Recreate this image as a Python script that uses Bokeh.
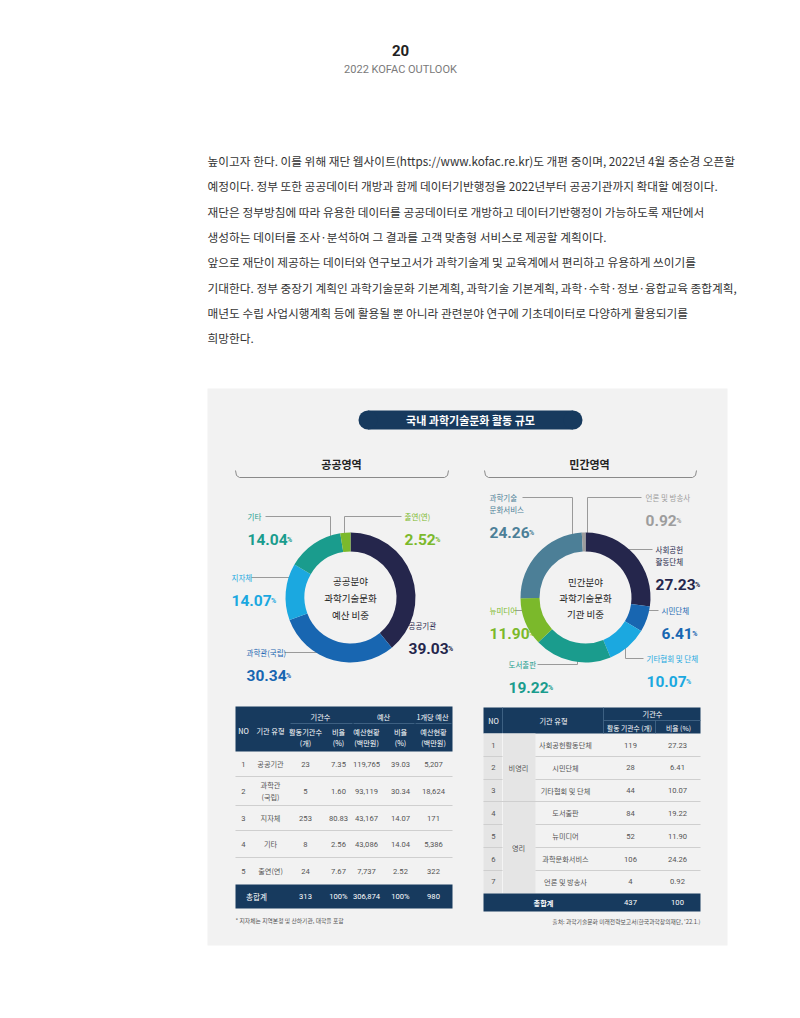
import numpy as np
from bokeh.plotting import figure
from bokeh.models import Range1d, ColumnDataSource
from bokeh.core.properties import value
from bokeh.embed import file_html
from bokeh.resources import INLINE

# ---------------- data ----------------
page_no = "20"
page_title = "2022 KOFAC OUTLOOK"
paragraph = [
    "높이고자 한다. 이를 위해 재단 웹사이트(https://www.kofac.re.kr)도 개편 중이며, 2022년 4월 중순경 오픈할",
    "예정이다. 정부 또한 공공데이터 개방과 함께 데이터기반행정을 2022년부터 공공기관까지 확대할 예정이다.",
    "재단은 정부방침에 따라 유용한 데이터를 공공데이터로 개방하고 데이터기반행정이 가능하도록 재단에서",
    "생성하는 데이터를 조사·분석하여 그 결과를 고객 맞춤형 서비스로 제공할 계획이다.",
    "앞으로 재단이 제공하는 데이터와 연구보고서가 과학기술계 및 교육계에서  편리하고 유용하게 쓰이기를",
    "기대한다. 정부 중장기 계획인 과학기술문화 기본계획, 과학기술 기본계획, 과학·수학·정보·융합교육 종합계획,",
    "매년도 수립 사업시행계획 등에 활용될 뿐 아니라 관련분야 연구에 기초데이터로 다양하게 활용되기를",
    "희망한다.",
]
panel_title = "국내 과학기술문화 활동 규모"
public_title = "공공영역"
private_title = "민간영역"
public_center = ["공공분야", "과학기술문화", "예산 비중"]
private_center = ["민간분야", "과학기술문화", "기관 비중"]

public_labels = ["공공기관", "과학관(국립)", "지자체", "기타", "출연(연)"]
public_share = [39.03, 30.34, 14.07, 14.04, 2.52]

private_labels = ["사회공헌\n활동단체", "시민단체", "기타협회 및 단체", "도서출판", "뉴미디어",
                  "과학기술\n문화서비스", "언론 및 방송사"]
private_share = [27.23, 6.41, 10.07, 19.22, 11.90, 24.26, 0.92]

# public table
pub_no = ["1", "2", "3", "4", "5"]
pub_type = ["공공기관", "과학관\n(국립)", "지자체", "기타", "출연(연)"]
pub_count = [23, 5, 253, 8, 24]
pub_count_pct = [7.35, 1.60, 80.83, 2.56, 7.67]
pub_budget = [119765, 93119, 43167, 43086, 7737]
pub_budget_pct = [39.03, 30.34, 14.07, 14.04, 2.52]
pub_per_org = [5207, 18624, 171, 5386, 322]
pub_total = ["총합계", "313", "100%", "306,874", "100%", "980"]
pub_note = "* 지자체는 지역본청 및 산하기관, 대학을 포함"

# private table
prv_no = ["1", "2", "3", "4", "5", "6", "7"]
prv_group = ["비영리", "영리"]
prv_group_rows = [3, 4]
prv_type = ["사회공헌활동단체", "시민단체", "기타협회 및 단체", "도서출판", "뉴미디어", "과학문화서비스", "언론 및 방송사"]
prv_count = [119, 28, 44, 84, 52, 106, 4]
prv_pct = [27.23, 6.41, 10.07, 19.22, 11.90, 24.26, 0.92]
prv_total = ["총합계", "437", "100"]
prv_source = "출처: 과학기술문화 미래전략보고서(한국과학창의재단, '22.1.)"

# ---------------- style ----------------
W, H = 800, 1018
KR = "Noto Sans CJK KR"
NUM = "Roboto"
NAVY = "#173a5e"
PANEL = "#f2f2f2"
C_DARK = "#25264c"
C_BLUE = "#1866b1"
C_LBLUE = "#1ba8e0"
C_TEAL = "#1a9c8d"
C_GREEN = "#7bb92b"
C_STEEL = "#4c7f97"
C_GRAY = "#9d9d9d"
pub_colors = [C_DARK, C_BLUE, C_LBLUE, C_TEAL, C_GREEN]
prv_colors = [C_DARK, C_BLUE, C_LBLUE, C_TEAL, C_GREEN, C_STEEL, C_GRAY]


def Y(y):
    return H - y


p = figure(width=W, height=H, x_range=Range1d(0, W), y_range=Range1d(0, H),
           output_backend="svg", toolbar_location=None, x_axis_type=None, y_axis_type=None,
           min_border=0)
p.grid.visible = False
p.outline_line_color = None
p.background_fill_color = "white"
p.border_fill_color = "white"


def txt(x, y, s, size, color="#333333", font=KR, style="normal", align="left", baseline="middle"):
    p.text(x=[x], y=[Y(y)], text=[s], text_font=value(font), text_font_size=f"{size}px",
           text_color=color, text_font_style=style, text_align=align, text_baseline=baseline)


# header
txt(400, 50, page_no, 15, "#222222", NUM, "bold", "center")
txt(400, 69, page_title, 11, "#7a7a7a", NUM, "normal", "center")

# paragraph
for i, line in enumerate(paragraph):
    txt(207, 160 + 25.3 * i, line, 11.7, "#333333")

# panel
p.quad(left=[207], right=[727], top=[Y(388)], bottom=[Y(945)], fill_color=PANEL, line_color=None)

# title pill
p.quad(left=[367.5], right=[572.5], top=[Y(410)], bottom=[Y(429)], fill_color=NAVY, line_color=None)
p.ellipse(x=[367.5, 572.5], y=[Y(419.5)] * 2, width=19, height=19, fill_color=NAVY, line_color=None)
txt(470, 419.5, panel_title, 11, "white", KR, "bold", "center")

# section titles & brackets
txt(341, 463, public_title, 11, "#222222", KR, "bold", "center")
txt(589, 463, private_title, 11, "#222222", KR, "bold", "center")
for (a, b) in [(235, 448), (484, 696)]:
    xs = [a, a + 1, a + 4, b - 4, b - 1, b]
    ys = [Y(470), Y(475), Y(477), Y(477), Y(475), Y(470)]
    p.line(xs, ys, line_color="#8a8a8a", line_width=1)


def pct_text(x, y, v, color):
    s = f"{v:.2f}"
    fs = 15.5
    w = sum(0.262 if c == "." else 0.565 for c in s) * fs
    txt(x, y, s, fs, color, NUM, "bold", "left", "alphabetic")
    txt(x + w + 0.5, y, "%", 7, color, NUM, "bold", "left", "alphabetic")


def donut(cx, cy, shares, colors, r_in, r_out):
    fr = np.array(shares, dtype=float) / np.sum(shares)
    ends = np.cumsum(fr)
    starts = ends - fr
    src = ColumnDataSource(dict(
        start=np.pi / 2 - 2 * np.pi * starts,
        end=np.pi / 2 - 2 * np.pi * ends,
        color=colors,
    ))
    p.annular_wedge(x=cx, y=Y(cy), inner_radius=r_in, outer_radius=r_out,
                    start_angle="start", end_angle="end", direction="clock",
                    fill_color="color", line_color=None, source=src)


LEAD = "#9a9a9a"

# ---- public donut ----
pub_cx, pub_cy = 350, 597
pub_layout = [  # (label x, label y, leader polyline)
    (408, 625, None),
    (246, 652, [(284, 652), (318, 652)]),
    (231, 577, [(251, 577), (290, 577)]),
    (247, 516, [(265, 516), (330, 516), (330, 540)]),
    (404, 516, [(401, 516), (344, 516), (344, 540)]),
]
for (lx, ly, lead) in pub_layout:
    if lead:
        p.line([q[0] for q in lead], [Y(q[1]) for q in lead], line_color=LEAD, line_width=1)
donut(pub_cx, pub_cy, public_share, pub_colors, 46, 65)
for (lx, ly, lead), lab, v, c in zip(pub_layout, public_labels, public_share, pub_colors):
    txt(lx, ly, lab, 7.5, c)
    pct_text(lx, ly + 23, v, c)
for i, s in enumerate(public_center):
    txt(pub_cx, pub_cy - 17 + 17 * i, s, 9.5, "#222222", KR, "normal", "center")

# ---- private donut ----
prv_cx, prv_cy = 585, 597
prv_layout = [
    (655, 549, [(652, 549), (625, 549)]),
    (661, 610, [(658, 610), (646, 610)]),
    (646, 658, [(643, 658), (625, 658), (625, 640)]),
    (508, 664, [(537, 664), (577, 664), (577, 650)]),
    (489, 610, [(515, 610), (530, 610)]),
    (489, 497, [(522, 497), (572, 497), (572, 540)]),
    (645, 497, [(641, 497), (587, 497), (587, 535)]),
]
for (lx, ly, lead) in prv_layout:
    if lead:
        p.line([q[0] for q in lead], [Y(q[1]) for q in lead], line_color=LEAD, line_width=1)
donut(prv_cx, prv_cy, private_share, prv_colors, 46, 65)
for (lx, ly, lead), lab, v, c in zip(prv_layout, private_labels, private_share, prv_colors):
    parts = lab.split("\n")
    for k, part in enumerate(parts):
        txt(lx, ly + 12 * k, part, 7.5, c)
    pct_text(lx, ly + 12 * (len(parts) - 1) + 23, v, c)
for i, s in enumerate(private_center):
    txt(prv_cx, prv_cy - 16 + 16 * i, s, 9.5, "#222222", KR, "normal", "center")

# ---- public table ----
TS = 7.2
TC = "#555555"
L0, L1 = 235, 452
p.quad(left=[L0], right=[L1], top=[Y(706)], bottom=[Y(751)], fill_color=NAVY, line_color=None)
col_x = [243, 270, 305, 338, 366, 400, 433]
txt(320, 716, "기관수", TS, "white", KR, "normal", "center")
txt(383, 716, "예산", TS, "white", KR, "normal", "center")
txt(432, 716, "1개당 예산", TS, "white", KR, "normal", "center")
p.line([290, 352], [Y(723), Y(723)], line_color="#47698b", line_width=0.8)
p.line([353, 414], [Y(723), Y(723)], line_color="#47698b", line_width=0.8)
p.line([415, 451], [Y(723), Y(723)], line_color="#47698b", line_width=0.8)
txt(col_x[0], 730, "NO", TS, "white", KR, "normal", "center")
txt(col_x[1], 730, "기관 유형", TS, "white", KR, "normal", "center")
hdr2 = [("활동기관수", "(개)"), ("비율", "(%)"), ("예산현황", "(백만원)"), ("비율", "(%)"), ("예산현황", "(백만원)")]
for cx, (a, b) in zip(col_x[2:], hdr2):
    txt(cx, 731, a, TS, "white", KR, "normal", "center")
    txt(cx, 742, b, TS, "white", KR, "normal", "center")

row_y = [763.5, 790.5, 817.5, 843.5, 870.5]
for sy in [776, 805, 830, 857]:
    p.line([L0, L1], [Y(sy), Y(sy)], line_color="#cfcfcf", line_width=1)
for i in range(len(pub_no)):
    y = row_y[i]
    vals = [pub_no[i], None, f"{pub_count[i]}", f"{pub_count_pct[i]:.2f}", f"{pub_budget[i]:,}",
            f"{pub_budget_pct[i]:.2f}", f"{pub_per_org[i]:,}"]
    for cx, s in zip(col_x, vals):
        if s is not None:
            txt(cx, y, s, TS + 0.4, TC, NUM, "normal", "center")
    parts = pub_type[i].split("\n")
    for k, part in enumerate(parts):
        txt(col_x[1], y - 6 * (len(parts) - 1) + 12 * k, part, TS, TC, KR, "normal", "center")
p.quad(left=[L0], right=[L1], top=[Y(884)], bottom=[Y(908)], fill_color=NAVY, line_color=None)
tot_x = [256, 305, 338, 366, 400, 433]
for cx, s in zip(tot_x, pub_total):
    txt(cx, 896, s, TS + 0.4, "white", KR if cx == 256 else NUM, "normal", "center")
txt(235, 920, pub_note, 5.8, "#555555")

# ---- private table ----
R0, R1 = 483, 700
p.quad(left=[R0], right=[R1], top=[Y(707)], bottom=[Y(733)], fill_color=NAVY, line_color=None)
for xv in [502, 603]:
    p.line([xv, xv], [Y(707), Y(733)], line_color="#47698b", line_width=0.8)
p.line([603, R1], [Y(720), Y(720)], line_color="#47698b", line_width=0.8)
p.line([655, 655], [Y(720), Y(733)], line_color="#47698b", line_width=0.8)
txt(493, 720, "NO", TS, "white", KR, "normal", "center")
txt(553, 720, "기관 유형", TS, "white", KR, "normal", "center")
txt(652, 713.5, "기관수", TS, "white", KR, "normal", "center")
txt(629, 727, "활동 기관수 (개)", TS - 0.4, "white", KR, "normal", "center")
txt(678, 727, "비율 (%)", TS - 0.4, "white", KR, "normal", "center")

p.quad(left=[R0], right=[535], top=[Y(733)], bottom=[Y(893)], fill_color="#e5e5e5", line_color=None)
p.line([502, 502], [Y(733), Y(893)], line_color="#f4f4f4", line_width=1)
prv_row_y = [744.5 + 22.8 * i for i in range(7)]
seps = [756, 779, 801, 824, 847, 870]
for k, sy in enumerate(seps):
    if k == prv_group_rows[0] - 1:
        p.line([R0, R1], [Y(sy), Y(sy)], line_color="#cfcfcf", line_width=1)
    else:
        p.line([R0, 502], [Y(sy), Y(sy)], line_color="#cfcfcf", line_width=1)
        p.line([535, R1], [Y(sy), Y(sy)], line_color="#cfcfcf", line_width=1)
start = 0
for g, n in zip(prv_group, prv_group_rows):
    gy = (prv_row_y[start] + prv_row_y[start + n - 1]) / 2
    txt(518, gy, g, TS, TC, KR, "normal", "center")
    start += n
for i in range(len(prv_no)):
    y = prv_row_y[i]
    txt(493, y, prv_no[i], TS + 0.4, TC, NUM, "normal", "center")
    txt(565, y, prv_type[i], TS, TC, KR, "normal", "center")
    txt(630, y, f"{prv_count[i]}", TS + 0.4, TC, NUM, "normal", "center")
    txt(677, y, f"{prv_pct[i]:.2f}", TS + 0.4, TC, NUM, "normal", "center")
p.quad(left=[R0], right=[R1], top=[Y(893)], bottom=[Y(911)], fill_color=NAVY, line_color=None)
txt(543, 902, prv_total[0], TS, "white", KR, "bold", "center")
txt(630, 902, prv_total[1], TS + 0.4, "white", NUM, "normal", "center")
txt(677, 902, prv_total[2], TS + 0.4, "white", NUM, "normal", "center")
txt(700, 921, prv_source, 5.8, "#555555", KR, "normal", "right")

open("out.html", "w").write(file_html(p, INLINE))
